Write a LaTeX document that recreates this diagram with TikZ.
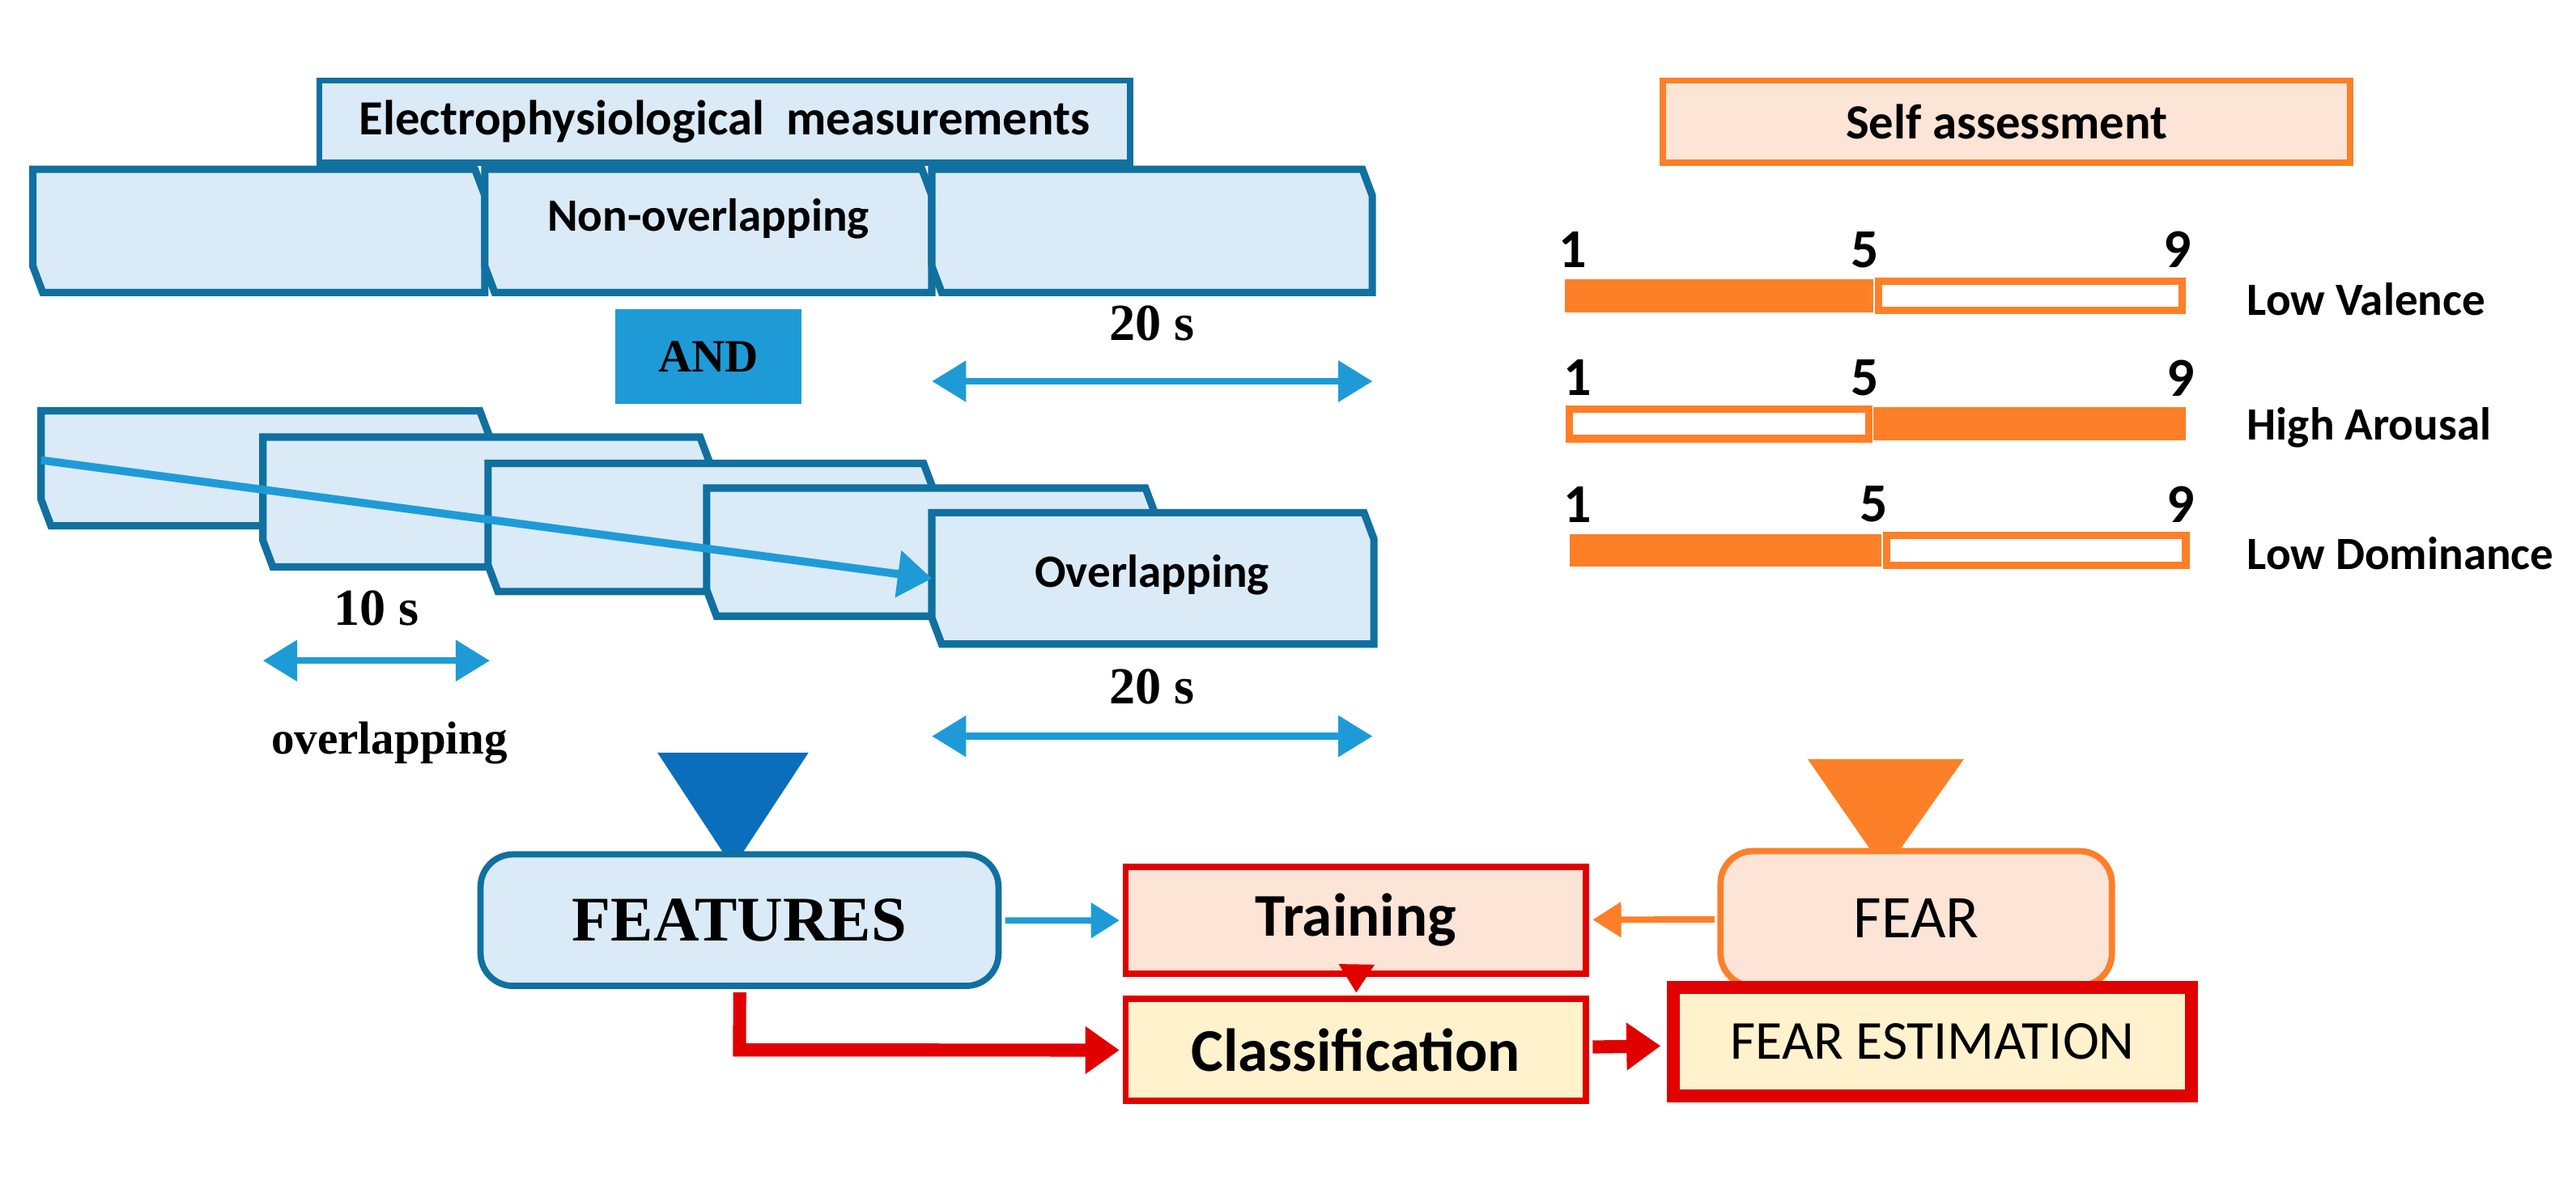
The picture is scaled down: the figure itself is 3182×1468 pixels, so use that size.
\documentclass[tikz,border=0pt]{standalone}
\usepackage{fontspec}
\setmainfont{Carlito}
\newfontfamily\tms{Liberation Serif}
\usetikzlibrary{arrows.meta}
\definecolor{winfill}{RGB}{218,234,247}
\definecolor{winline}{RGB}{16,112,160}
\definecolor{skyblue}{RGB}{30,155,215}
\definecolor{darkblue}{RGB}{10,110,189}
\definecolor{orng}{RGB}{253,127,40}
\definecolor{peach}{RGB}{252,228,214}
\definecolor{cream}{RGB}{255,242,204}
\definecolor{redline}{RGB}{225,0,0}
\tikzset{
  win/.style={draw=winline,line width=2.6pt,fill=winfill},
  dim/.style={skyblue,line width=2.4pt,{Triangle[width=14pt,length=12pt]}-{Triangle[width=14pt,length=12pt]}},
  num/.style={font=\bfseries\fontsize{9.5}{11}\selectfont},
  scl/.style={font=\bfseries\fontsize{8}{10}\selectfont,anchor=west},
  box/.style={draw=redline,line width=2.2pt,minimum width=2.8cm,inner sep=0pt}
}
% window with chamfered north-east and south-west corners: name, left, top, right, bottom
\newcommand\winbox[5]{%
  \draw[win] (#2,#3) -- (#4-6,#3) -- (#4,#3+16) -- (#4,#5) -- (#2+6,#5) -- (#2,#5-16) -- cycle;
  \coordinate (#1) at ({(#2+#4)/2},{(#3+#5)/2});
  \coordinate (#1-w) at (#2,{(#3+#5)/2});}
\begin{document}
\begin{tikzpicture}[x=0.01cm,y=-0.01cm]
\useasboundingbox (0,0) rectangle (3182,1468);
\begin{scope}[scale=2.03,transform shape]
% headers
\node[draw=winline,line width=2.2pt,fill=winfill,minimum width=4.93cm,minimum height=0.5cm,
  font=\bfseries\fontsize{8.5}{10}\selectfont] (elec) at (441,74) {Electrophysiological\ \ measurements};
\node[draw=orng,line width=2.2pt,fill=peach,minimum width=4.18cm,minimum height=0.5cm,
  font=\bfseries\fontsize{8.5}{10}\selectfont] (self) at (1221,74) {Self assessment};
% non-overlapping windows
\winbox{n1}{20}{103}{295}{178}
\winbox{n2}{295}{103}{567}{178}
\winbox{n3}{567}{103}{835}{178}
\node[font=\bfseries\fontsize{8}{10}\selectfont] at (431,133) {Non-overlapping};
\node[fill=skyblue,minimum width=1.13cm,minimum height=0.58cm,
  font=\tms\bfseries\fontsize{8}{10}\selectfont] (and) at (431,217) {AND};
\coordinate (a1) at (567,232); \coordinate (a2) at (835,232);
\draw[dim] (a1) -- (a2);
\node[font=\tms\bfseries\fontsize{9}{10}\selectfont] at (701,197) {20 s};
% overlapping windows
\winbox{o1}{25}{250}{298}{320}
\winbox{o2}{160}{266}{432}{345}
\winbox{o3}{297}{282}{568}{360}
\winbox{o4}{430}{297}{703}{375}
\winbox{o5}{567}{312}{836}{392}
\node[font=\bfseries\fontsize{8}{10}\selectfont] at (701,350) {Overlapping};
\coordinate (d1) at (25,280);
\draw[skyblue,line width=2.8pt,-{Triangle[width=16pt,length=12pt]}] (d1) -- (o5-w);
\coordinate (b1) at (160,402); \coordinate (b2) at (298,402);
\draw[dim] (b1) -- (b2);
\node[font=\tms\bfseries\fontsize{9}{10}\selectfont] at (229,370) {10 s};
\node[font=\tms\bfseries\fontsize{8}{10}\selectfont] at (237,452) {overlapping};
\coordinate (c1) at (567,448); \coordinate (c2) at (835,448);
\draw[dim] (c1) -- (c2);
\node[font=\tms\bfseries\fontsize{9}{10}\selectfont] at (701,418) {20 s};
% scales
\foreach \yy/\lab/\xa/\xb/\xc/\lo in {180/Low Valence/952/1140/1328/1,258/High Arousal/955/1140/1330/0,335/Low Dominance/955/1145/1330/1}{
  \ifnum\lo=1
    \fill[orng] (\xa,\yy-10) rectangle (\xb,\yy+10);
    \draw[orng,line width=2.6pt] (\xb+3,\yy-9) rectangle (\xc,\yy+9);
  \else
    \draw[orng,line width=2.6pt] (\xa,\yy-9) rectangle (\xb-3,\yy+9);
    \fill[orng] (\xb,\yy-10) rectangle (\xc,\yy+10);
  \fi
  \node[num] at (\xa+5,\yy-28) {1};
  \node[num] at (\xb-5,\yy-28) {5};
  \node[num] at (\xc-3,\yy-28) {9};
  \node[scl] at (1355,\yy+2) {\lab};
}
% triangles
\fill[darkblue] (400,458) -- (492,458) -- (446,528) -- cycle;
\fill[orng] (1100,462) -- (1195,462) -- (1147,530) -- cycle;
% flow
\node[draw=winline,line width=2.2pt,fill=winfill,rounded corners=0.4cm,minimum width=3.15cm,
  minimum height=0.8cm,font=\tms\bfseries\fontsize{11}{12}\selectfont] (feat) at (450,560) {FEATURES};
\node[box,fill=peach,minimum height=0.65cm,font=\fontsize{10.5}{12}\selectfont\bfseries] (train) at (825,560) {Training};
\node[draw=orng,line width=2.2pt,fill=peach,rounded corners=0.4cm,minimum width=2.38cm,
  minimum height=0.82cm,font=\fontsize{10.5}{12}\selectfont] (fear) at (1166,559) {FEAR};
\node[box,fill=cream,minimum height=0.62cm,font=\fontsize{10.5}{12}\selectfont\bfseries] (clas) at (825,639) {Classification};
\node[box,line width=4.6pt,fill=cream,minimum width=3.15cm,minimum height=0.66cm,
  font=\fontsize{9.5}{11}\selectfont] (est) at (1176,634) {FEAR ESTIMATION};
\draw[skyblue,line width=2.2pt,-{Triangle[width=12pt,length=10pt]}] (feat) -- (train);
\draw[orng,line width=2.2pt,-{Triangle[width=12pt,length=10pt]}] (fear) -- (train);
\draw[redline,line width=2.2pt,-{Triangle[width=12pt,length=10pt]}] (train) -- (clas);
\draw[redline,line width=4.6pt,-{Triangle[width=16pt,length=12pt]}] (feat.south) -- (450,639) -- (clas.west);
\draw[redline,line width=4.6pt,-{Triangle[width=16pt,length=12pt]}] (clas) -- (est);
\end{scope}
\end{tikzpicture}
\end{document}
